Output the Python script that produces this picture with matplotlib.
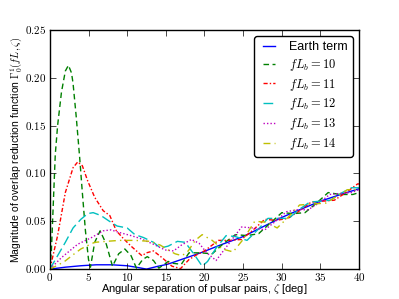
import numpy as np
import matplotlib
matplotlib.use('Agg')
import matplotlib.pyplot as plt
from matplotlib.ticker import FuncFormatter

plt.style.use('classic')
plt.rcParams['mathtext.fontset'] = 'cm'
plt.rcParams['font.family'] = ['Liberation Sans', 'DejaVu Sans']

# values (angle in deg, magnitude)
zeta_earth = [0, 2, 4, 6, 8, 10, 11.5, 12.5, 14, 15.2, 17, 19.5, 22, 25, 28, 30, 32, 35, 38, 40]
gamma_earth = [0, 0.002, 0.0035, 0.0045, 0.0045, 0.0035, 0.0015, 0.0, 0.003, 0.005, 0.010, 0.017,
               0.025, 0.034, 0.046, 0.054, 0.061, 0.071, 0.079, 0.084]

zeta_10 = [0, 0.2, 0.4, 0.7, 1.0, 1.5, 2.0, 2.4, 2.8, 3.0, 3.4, 3.85, 4.2, 4.6, 5.0, 5.25,
           5.8, 6.5, 7.3, 8.1, 8.9, 9.7, 10.5, 11.2, 12.0, 12.6, 13.4, 14.1, 15.3, 16.0, 17.0,
           18.0, 19.5, 21.0, 22.5, 24.0, 25.5, 27.0, 28.5, 30.0, 31.5, 33.0, 34.5, 36.0, 37.5,
           39.2, 40]
gamma_10 = [0, 0.02, 0.06, 0.12, 0.15, 0.185, 0.207, 0.213, 0.205, 0.194, 0.16, 0.117, 0.08,
            0.04, 0.01, 0.002, 0.028, 0.040, 0.026, 0.003, 0.016, 0.021, 0.014, 0.001, 0.010,
            0.013, 0.009, 0.001, 0.008, 0.006, 0.005, 0.017, 0.017, 0.016, 0.027, 0.036, 0.035,
            0.037, 0.048, 0.059, 0.058, 0.059, 0.069, 0.080, 0.078, 0.078, 0.080]

zeta_11 = [0, 1.0, 2.0, 3.0, 3.6, 4.2, 4.9, 5.8, 6.9, 7.75, 8.6, 9.5, 10.5, 11.2, 11.9, 12.5,
           13.4, 14.5, 15.8, 16.9, 18.0, 19.0, 20.0, 21.8, 23.3, 24.8, 26.3, 27.8, 29.3, 30.8,
           32.3, 33.8, 35.3, 36.8, 38.3, 39.8, 40]
gamma_11 = [0, 0.035, 0.080, 0.106, 0.112, 0.108, 0.092, 0.075, 0.061, 0.056, 0.040, 0.032,
            0.024, 0.019, 0.014, 0.017, 0.019, 0.012, 0.003, 0.0005, 0.010, 0.015, 0.019, 0.030,
            0.030, 0.031, 0.041, 0.052, 0.051, 0.053, 0.061, 0.070, 0.071, 0.072, 0.080, 0.089,
            0.089]

zeta_12 = [0, 1.0, 2.0, 3.0, 4.0, 4.9, 5.6, 6.6, 7.7, 8.7, 10.0, 11.0, 12.1, 13.4, 14.3, 15.3,
           16.5, 17.5, 18.7, 19.7, 20.4, 21.5, 22.8, 24.0, 25.5, 27.0, 28.2, 29.5, 30.9, 32.2,
           33.6, 35.0, 36.3, 37.6, 39.0, 40]
gamma_12 = [0, 0.014, 0.028, 0.043, 0.052, 0.058, 0.059, 0.056, 0.050, 0.045, 0.043, 0.036,
            0.033, 0.028, 0.022, 0.024, 0.029, 0.028, 0.015, 0.003, 0.008, 0.022, 0.035, 0.034,
            0.030, 0.042, 0.053, 0.053, 0.053, 0.062, 0.070, 0.071, 0.072, 0.079, 0.085, 0.085]

zeta_13 = [0, 1.5, 3.6, 5.4, 6.9, 7.9, 9.1, 10.5, 11.7, 13.4, 14.9, 16.0, 17.0, 18.3, 19.3,
           20.3, 21.5, 23.0, 24.8, 26.3, 27.8, 29.2, 30.6, 32.0, 33.4, 34.8, 36.2, 37.6, 39.0,
           40]
gamma_13 = [0, 0.012, 0.026, 0.033, 0.040, 0.041, 0.038, 0.035, 0.032, 0.026, 0.020, 0.019,
            0.025, 0.031, 0.027, 0.017, 0.009, 0.025, 0.044, 0.043, 0.041, 0.050, 0.060, 0.062,
            0.062, 0.069, 0.078, 0.079, 0.080, 0.083]

zeta_14 = [0, 1.0, 1.9, 3.0, 4.0, 5.0, 5.8, 7.3, 9.0, 11.0, 13.0, 14.3, 15.3, 16.2, 17.1,
           17.9, 18.8, 19.7, 21.0, 22.3, 23.7, 25.1, 26.5, 28.0, 29.4, 30.8, 32.3, 34.0, 35.7,
           37.1, 38.5, 40]
gamma_14 = [0, 0.004, 0.008, 0.015, 0.021, 0.025, 0.028, 0.029, 0.030, 0.030, 0.029, 0.025,
            0.020, 0.016, 0.014, 0.019, 0.030, 0.036, 0.030, 0.021, 0.018, 0.032, 0.050, 0.049,
            0.043, 0.054, 0.067, 0.068, 0.069, 0.076, 0.083, 0.083]

fig = plt.figure(figsize=(3.99, 2.99), dpi=100, facecolor='white')
ax = fig.add_axes([0.125, 0.1, 0.775, 0.8])

ax.plot(zeta_earth, gamma_earth, color='b', ls='-', lw=1, label='Earth term')
ax.plot(zeta_10, gamma_10, color='g', dashes=[4, 2.5], lw=1, label=r'$fL_b = 10$')
ax.plot(zeta_11, gamma_11, color='r', dashes=[3, 1.5, 1, 1.5], lw=1, label=r'$fL_b = 11$')
ax.plot(zeta_12, gamma_12, color='c', dashes=[7, 3], lw=1, label=r'$fL_b = 12$')
ax.plot(zeta_13, gamma_13, color='m', dashes=[1, 1.5], lw=1, label=r'$fL_b = 13$')
ax.plot(zeta_14, gamma_14, color='y', dashes=[5, 3, 1, 3], lw=1, label=r'$fL_b = 14$')

ax.set_xlim(0, 40)
ax.set_ylim(0, 0.25)
ax.set_xticks(np.arange(0, 41, 5))
ax.set_yticks(np.arange(0, 0.26, 0.05))
ax.xaxis.set_major_formatter(FuncFormatter(lambda v, p: r'$\mathrm{%d}$' % v))
ax.yaxis.set_major_formatter(FuncFormatter(lambda v, p: r'$\mathrm{%.2f}$' % v))
ax.tick_params(axis='y', labelsize=8, pad=2.5)
ax.tick_params(axis='x', labelsize=8, pad=1.5)

ax.set_xlabel(r'Angular separation of pulsar pairs, $\zeta$ [deg]', fontsize=8, labelpad=-1)
ax.set_ylabel(r'Magnitude of overlap reduction function $\Gamma^1_0(fL,\zeta)$',
              fontsize=7.5, labelpad=0)

ax.legend(loc='upper right', fontsize=9, fancybox=True, handlelength=1.6,
          labelspacing=0.3, borderpad=0.4)

fig.savefig('out.png', dpi=100, facecolor='white')
